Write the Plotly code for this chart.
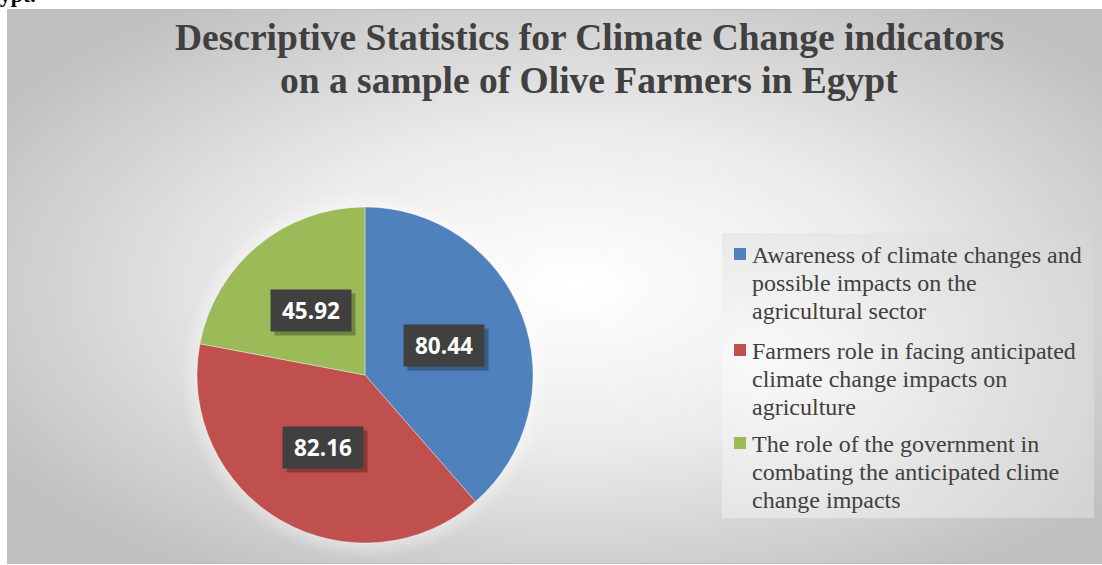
import base64
import math
import plotly.graph_objects as go

# Data
categories = [
    "Awareness of climate changes and<br>possible impacts on the<br>agricultural sector",
    "Farmers role in facing anticipated<br>climate change impacts on<br>agriculture",
    "The role of the government in<br>combating the anticipated clime<br>change impacts",
]
values = [80.44, 82.16, 45.92]
colors = ["#4F81BD", "#C0504D", "#9BBB59"]
value_labels = [f"{v:.2f}" for v in values]

W, H = 1102, 565
# pie square in pixels
CX, CY, R = 365, 375, 168

# Background: chart area with a radial gradient and a lighter legend panel
svg = f"""<svg xmlns='http://www.w3.org/2000/svg' width='{W}' height='{H}' viewBox='0 0 {W} {H}'>
<defs>
<radialGradient id='bg' cx='0.52' cy='0.5' r='0.62'>
<stop offset='0' stop-color='#ffffff'/>
<stop offset='0.45' stop-color='#ececec'/>
<stop offset='1' stop-color='#c0c0c0'/>
</radialGradient>
<radialGradient id='lg' cx='0.1' cy='0.45' r='1.0'>
<stop offset='0' stop-color='#fafafa'/>
<stop offset='1' stop-color='#d4d4d4'/>
</radialGradient>
<radialGradient id='glow' cx='0.5' cy='0.5' r='0.5'>
<stop offset='0.9' stop-color='#ffffff' stop-opacity='0.4'/>
<stop offset='1' stop-color='#ffffff' stop-opacity='0'/>
</radialGradient>
</defs>
<rect x='0' y='0' width='{W}' height='{H}' fill='#ffffff'/>
<rect x='7.5' y='9.5' width='{W - 7}' height='{H - 11}' fill='url(#bg)' stroke='#bcbcbc' stroke-width='1'/>
<circle cx='{CX}' cy='{CY}' r='{R + 16}' fill='url(#glow)'/>
<rect x='722' y='233' width='372' height='285' fill='url(#lg)'/>
</svg>"""
svg_uri = "data:image/svg+xml;base64," + base64.b64encode(svg.encode()).decode()

fig = go.Figure(
    go.Pie(
        labels=categories,
        values=values,
        marker=dict(colors=colors, line=dict(color="rgba(255,255,255,0.6)", width=0.6)),
        sort=False,
        direction="clockwise",
        rotation=0,
        textinfo="none",
        hoverinfo="label+value",
        showlegend=False,
        domain=dict(x=[(CX - R) / W, (CX + R) / W], y=[1 - (CY + R) / H, 1 - (CY - R) / H]),
    )
)

annotations = []
shapes = []

# value boxes placed at half radius along each slice's mid angle
total = sum(values)
cum = 0.0
for val, txt in zip(values, value_labels):
    mid = (cum + val / 2) / total * 2 * math.pi
    cum += val
    px = CX + 0.5 * R * math.sin(mid)
    py = CY - 0.5 * R * math.cos(mid)
    ax, ay = px / W, 1 - py / H
    common = dict(x=ax, y=ay, xref="paper", yref="paper", showarrow=False,
                  xanchor="center", yanchor="middle", width=78, height=39)
    # soft shadow
    annotations.append(dict(common, text=" ", bgcolor="rgba(0,0,0,0.28)",
                            xshift=4, yshift=-4, font=dict(size=22)))
    annotations.append(dict(common, text=f"<b>{txt}</b>", bgcolor="#404040",
                            font=dict(family="Open Sans", size=22.5, color="#ffffff")))

# legend: colour square beside the first line of each wrapped entry
legend_font = dict(family="Liberation Serif", size=24, color="#404040")
legend_rows = [254, 350, 443]
LINE_STEP = 28
for name, col, row in zip(categories, colors, legend_rows):
    shapes.append(dict(
        type="rect", xref="paper", yref="paper",
        x0=734 / W, x1=746 / W, y0=1 - (row + 6) / H, y1=1 - (row - 6) / H,
        fillcolor=col, line=dict(width=0),
    ))
    for k, line in enumerate(name.split("<br>")):
        annotations.append(dict(
            x=750 / W, y=1 - (row + 1 + k * LINE_STEP) / H, xref="paper", yref="paper",
            showarrow=False, text=line, align="left", xanchor="left", yanchor="middle",
            font=legend_font,
        ))

# title lines
title_font = dict(family="Liberation Serif", size=37.5, color="#404040")
annotations.append(dict(
    x=589 / W, y=1 - 48 / H, xref="paper", yref="paper", showarrow=False,
    text="<b>Descriptive Statistics for Climate Change indicators</b>",
    xanchor="center", yanchor="bottom", yshift=-12, font=title_font,
))
annotations.append(dict(
    x=589 / W, y=1 - 91 / H, xref="paper", yref="paper", showarrow=False,
    text="<b>on a sample of Olive Farmers in Egypt</b>",
    xanchor="center", yanchor="bottom", yshift=-12, font=title_font,
))
# heading text of the surrounding page, cut at the top edge
annotations.append(dict(
    x=38 / W, y=1, xref="paper", yref="paper", showarrow=False,
    text="<b>Egypt.</b>", xanchor="right", yanchor="bottom", yshift=-9,
    font=dict(family="Liberation Serif", size=22, color="#000000"),
))

fig.update_layout(
    width=W,
    height=H,
    margin=dict(l=0, r=0, t=0, b=0),
    paper_bgcolor="#ffffff",
    plot_bgcolor="rgba(0,0,0,0)",
    images=[dict(
        source=svg_uri, xref="paper", yref="paper", x=0, y=1, sizex=1, sizey=1,
        xanchor="left", yanchor="top", sizing="stretch", layer="below",
    )],
    showlegend=False,
    shapes=shapes,
    annotations=annotations,
)

fig.write_html("out.html")
